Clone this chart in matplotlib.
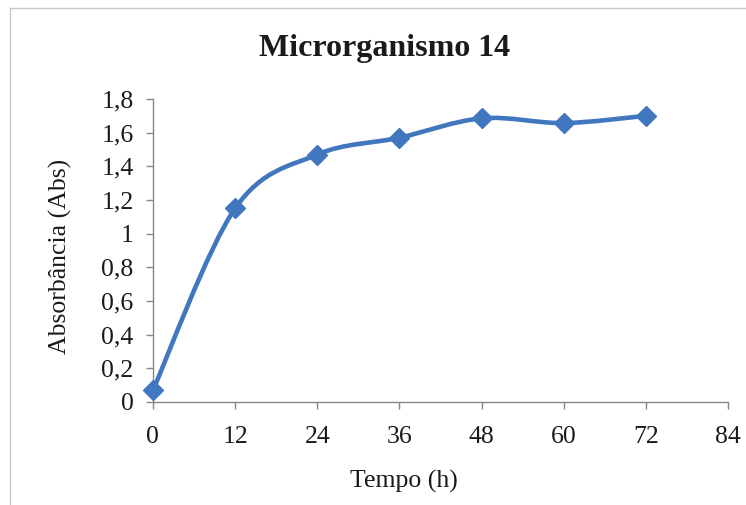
import numpy as np
import matplotlib.pyplot as plt
from matplotlib.path import Path
from matplotlib.patches import PathPatch, Rectangle

# Absorbância do microrganismo 14 ao longo do tempo
tempo = np.array([0, 12, 24, 36, 48, 60, 72])
absorbancia = np.array([0.07, 1.15, 1.47, 1.57, 1.685, 1.657, 1.70])

xticks = [0, 12, 24, 36, 48, 60, 72, 84]
yticks = [0, 0.2, 0.4, 0.6, 0.8, 1, 1.2, 1.4, 1.6, 1.8]
ytick_labels = ['0', '0,2', '0,4', '0,6', '0,8', '1', '1,2', '1,4', '1,6', '1,8']

azul = '#4177BE'
cinza = '#888888'

plt.rcParams['font.family'] = 'Liberation Serif'

fig = plt.figure(figsize=(7.46, 5.05), dpi=100)
ax = fig.add_axes([0.205, 0.204, 0.771, 0.600])

# moldura do gráfico (só aparecem a esquerda e o topo)
fig.patches.append(Rectangle((0.013, -0.05), 1.05, 1.035, transform=fig.transFigure,
                             fill=False, edgecolor='#c8c8c8', linewidth=1.0))

# curva suavizada (Bezier tipo Catmull-Rom entre os pontos)
pts = np.column_stack([tempo, absorbancia]).astype(float)
ext = np.vstack([pts[0], pts, pts[-1]])
verts = [pts[0]]
codes = [Path.MOVETO]
for i in range(len(pts) - 1):
    p0, p1, p2, p3 = ext[i], ext[i + 1], ext[i + 2], ext[i + 3]
    c1 = p1 + (p2 - p0) / 6
    c2 = p2 - (p3 - p1) / 6
    verts += [c1, c2, p2]
    codes += [Path.CURVE4] * 3
ax.add_patch(PathPatch(Path(verts, codes), fill=False, edgecolor=azul,
                       linewidth=3.3, capstyle='round', joinstyle='round', zorder=2))

ax.plot(tempo, absorbancia, linestyle='none', marker='D', markersize=10,
        color=azul, markeredgecolor=azul, zorder=3, clip_on=False)

ax.set_xlim(0, 84)
ax.set_ylim(0, 1.8)
ax.set_xticks(xticks)
ax.set_yticks(yticks)
ax.set_yticklabels(ytick_labels)

for s in ['top', 'right']:
    ax.spines[s].set_visible(False)
for s in ['left', 'bottom']:
    ax.spines[s].set_color(cinza)
    ax.spines[s].set_linewidth(1.0)
ax.tick_params(axis='both', direction='out', length=5, width=1.0, color=cinza,
               labelsize=18.5, labelcolor='#1a1a1a')
ax.tick_params(axis='x', pad=12)
ax.tick_params(axis='y', pad=9)

ax.set_xlabel('Tempo (h)', fontsize=18.5, color='#1a1a1a')
ax.set_ylabel('Absorbância (Abs)', fontsize=18.5, color='#1a1a1a')
ax.xaxis.set_label_coords(0.437, -0.225)
ax.yaxis.set_label_coords(-0.14, 0.48)
fig.text(0.516, 0.904, 'Microrganismo 14', ha='center', va='center',
         fontsize=23, fontweight='bold', color='#1a1a1a')

plt.savefig('out.png', dpi=100)
